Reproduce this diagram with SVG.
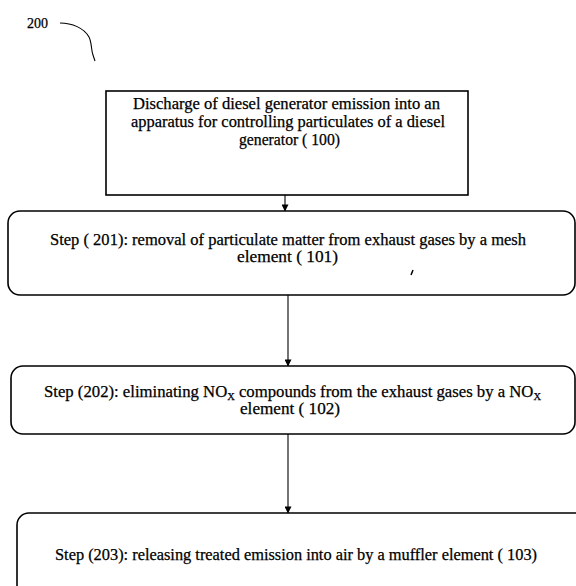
<svg xmlns="http://www.w3.org/2000/svg" width="576" height="586" viewBox="0 0 576 586">
<defs>
<marker id="ah" viewBox="0 0 8 8" refX="7.5" refY="4" markerWidth="7" markerHeight="7" markerUnits="userSpaceOnUse" orient="auto">
<path d="M0,0 L8,4 L0,8 Z" fill="#000"/>
</marker>
<style>
.box{fill:#fff;stroke:#000;stroke-width:1.6}
.t{font-family:"Liberation Serif","Times New Roman",serif;font-size:16px;fill:#000;stroke:#000;stroke-width:0.25}
.conn{stroke:#000;stroke-width:1.1;fill:none;marker-end:url(#ah)}
.sub{font-size:10px}
</style>
</defs>
<rect width="576" height="586" fill="#fff"/>
<g id="label200">
<text class="t" x="27" y="28" style="font-size:14px">200</text>
<path d="M60,23 C72,23 84,28 89,37 C92,43 91,50 93,55 L95,61" fill="none" stroke="#000" stroke-width="1.1"/>
</g>
<g id="connectors">
<line class="conn" x1="285" y1="195" x2="285" y2="211"/>
<line class="conn" x1="288" y1="295" x2="288" y2="366"/>
<line class="conn" x1="288" y1="434" x2="288" y2="513"/>
</g>
<g id="node100">
<rect class="box" x="106" y="91" width="362" height="104"/>
<text class="t" x="133" y="109" textLength="307" lengthAdjust="spacingAndGlyphs">Discharge of diesel generator emission into an</text>
<text class="t" x="131" y="127" textLength="314" lengthAdjust="spacingAndGlyphs">apparatus for controlling particulates of a diesel</text>
<text class="t" x="239" y="145" textLength="101" lengthAdjust="spacingAndGlyphs">generator ( 100)</text>
</g>
<g id="node201">
<rect class="box" x="8" y="211" width="567" height="84" rx="12"/>
<text class="t" x="50" y="245" textLength="476" lengthAdjust="spacingAndGlyphs">Step ( 201): removal of particulate matter from exhaust gases by a mesh</text>
<text class="t" x="237" y="262" textLength="101" lengthAdjust="spacingAndGlyphs">element ( 101)</text>
<path d="M413,270 L411,275" stroke="#000" stroke-width="1.5"/>
</g>
<g id="node202">
<rect class="box" x="11" y="366" width="564" height="68" rx="12"/>
<text class="t" x="44" y="397" textLength="497" lengthAdjust="spacingAndGlyphs">Step (202): eliminating NO<tspan class="sub" dy="3">X</tspan><tspan dy="-3"> compounds from the exhaust gases by a NO</tspan><tspan class="sub" dy="3">X</tspan></text>
<text class="t" x="240" y="414" textLength="100" lengthAdjust="spacingAndGlyphs">element ( 102)</text>
</g>
<g id="node203">
<rect class="box" x="17" y="513" width="572" height="84" rx="12"/>
<text class="t" x="55" y="560" textLength="482" lengthAdjust="spacingAndGlyphs">Step (203): releasing treated emission into air by a muffler element ( 103)</text>
</g>
</svg>
